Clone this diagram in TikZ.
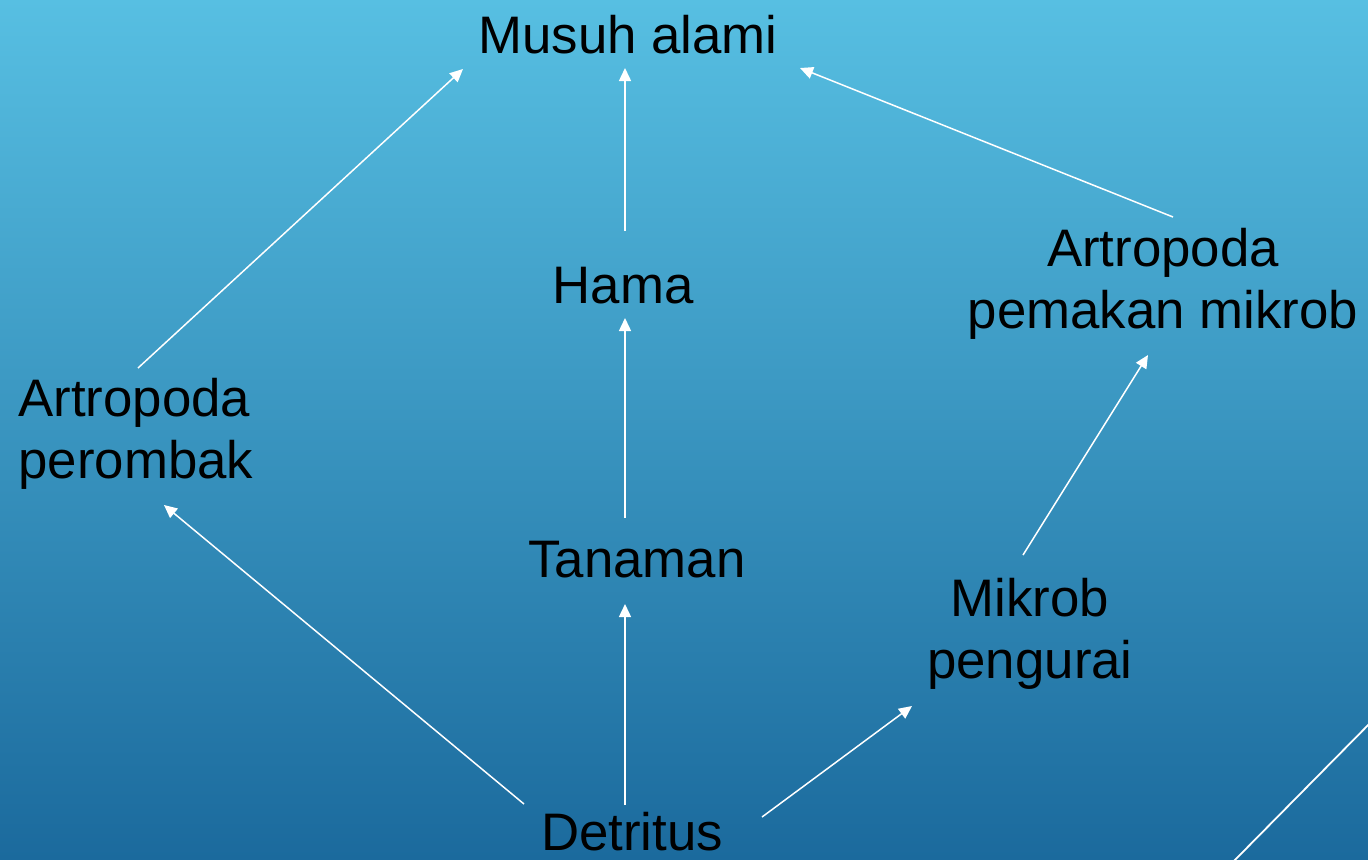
\documentclass[tikz,border=0pt]{standalone}
\usepackage{fontspec}
\setmainfont{Liberation Sans}
\usetikzlibrary{arrows.meta,calc}
\definecolor{bgtop}{HTML}{57BFE2}
\definecolor{bgbottom}{HTML}{1B6A9D}
\tikzset{
  label text/.style={font=\fontsize{26.4}{31}\selectfont, text=black, inner sep=0pt},
  flow/.style={draw=white, line width=0.75pt, -{Triangle[length=6.5pt,width=6pt]}},
}
\begin{document}
\begin{tikzpicture}[x=0.5pt, y=-0.5pt]
  % backdrop with a vertical blue gradient
  \shade[top color=bgtop, bottom color=bgbottom] (0,0) rectangle (1368,859);
  \useasboundingbox (0,0) rectangle (1368,859);

  % labels, placed by the baseline of their last line
  \node[label text, anchor=base] (musuh) at (628,53) {Musuh alami};
  \node[label text, anchor=base] (hama) at (623,303) {Hama};
  \node[label text, anchor=base] (tanaman) at (637,577) {Tanaman};
  \node[label text, anchor=base] (detritus) at (632,850) {Detritus};
  \node[label text, anchor=base west, align=left] (perombak) at (18,478) {Artropoda\\perombak};
  \node[label text, anchor=base, align=center] (pemakan) at (1163,328) {Artropoda\\pemakan mikrob};
  \node[label text, anchor=base, align=center] (mikrob) at (1030,678) {Mikrob\\pengurai};

  % food-web connectors
  \draw[flow] ($(hama.base)+(2,-72)$) -- ($(musuh.base)+(-3,15)$);
  \draw[flow] ($(tanaman.base)+(-12,-59)$) -- ($(hama.base)+(2,15)$);
  \draw[flow] ($(detritus.base)+(-7,-45)$) -- ($(tanaman.base)+(-12,27)$);
  \draw[flow] ($(detritus.base)+(-108,-46)$) -- ($(perombak.base west)+(146,27)$);
  \draw[flow] ($(perombak.base west)+(120,-110)$) -- ($(musuh.base)+(-165,16)$);
  \draw[flow] ($(detritus.base)+(130,-33)$) -- ($(mikrob.base)+(-118,28)$);
  \draw[flow] ($(mikrob.base)+(-7,-123)$) -- ($(pemakan.base)+(-15,27)$);
  \draw[flow] ($(pemakan.base)+(10,-111)$) -- ($(musuh.base)+(172,15)$);

  % corner stroke running off the lower right edge
  \begin{scope}
    \clip (0,0) rectangle (1368,859);
    \coordinate (strokeA) at (1378,715);
    \coordinate (strokeB) at (1226,869);
    \draw[white, line width=0.9pt] (strokeA) -- (strokeB);
  \end{scope}
\end{tikzpicture}
\end{document}
